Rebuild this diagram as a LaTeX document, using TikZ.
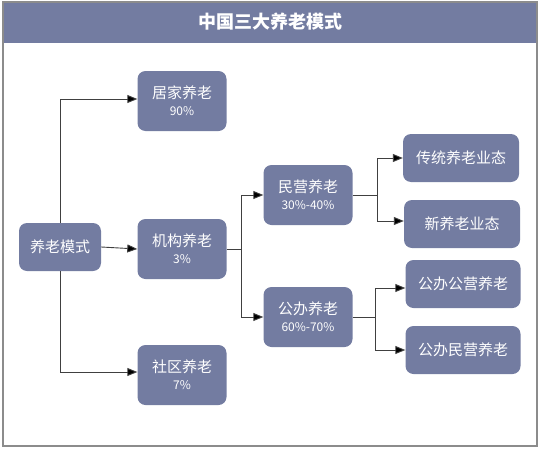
\documentclass[tikz,border=0pt]{standalone}
\usepackage{fontspec}
\newfontfamily\cjk{Noto Sans CJK SC}
\usetikzlibrary{arrows.meta,
                positioning}
\definecolor{boxblue}{HTML}{737CA1}
\newcommand\pctfont{\fontsize{12}{14}\selectfont}

\begin{document}
\begin{tikzpicture}[x=1pt,y=-1pt,
   mode/.style={fill=boxblue,text=white,rounded corners=8pt,align=center,
                minimum width=89pt,minimum height=60pt,inner sep=0pt,
                font=\cjk\fontsize{15}{18}\selectfont},
   leaf/.style={mode,minimum width=116pt,minimum height=48pt},
   link/.style={draw=black!75,line width=0.9pt,-{Triangle[length=10pt,width=8pt,fill=black]}}]
 \useasboundingbox (0,0) rectangle (541,450);
 % frame and title
 \fill[boxblue] (3,2) rectangle (537,43);
 \draw[black!45,line width=1.2pt] (3,2) rectangle (537,446);
 \node[text=white,font=\cjk\bfseries\fontsize{18}{20}\selectfont] (title) at (270,22) {中国三大养老模式};
 % nodes
 \node[mode,minimum width=82pt,minimum height=48pt] (ylms) at (60,247) {养老模式};
 \node[mode] (jj) at (182,101) {居家养老\\[-1pt]{\pctfont 90\%}};
 \node[mode] (jg) at (182,249) {机构养老\\[-1pt]{\pctfont 3\%}};
 \node[mode] (sq) at (182,375) {社区养老\\[-1pt]{\pctfont 7\%}};
 \node[mode] (my) at (308,195) {民营养老\\[-1pt]{\pctfont 30\%-40\%}};
 \node[mode] (gb) at (308,317) {公办养老\\[-1pt]{\pctfont 60\%-70\%}};
 \node[leaf] (ct) at (461,158) {传统养老业态};
 \node[leaf] (xy) at (462,224) {新养老业态};
 \node[leaf,minimum width=115pt] (gg) at (463,284) {公办公营养老};
 \node[leaf,minimum width=115pt] (gm) at (463,350) {公办民营养老};
 % forks
 \coordinate (f1) at ([xshift=15pt]jg.east);
 \coordinate (f2) at ([xshift=25pt]my.east);
 \coordinate (f3) at ([xshift=23pt]gb.east);
 % connectors
 \draw[link] (ylms.north) |- ([yshift=2pt]jj.west);
 \draw[link] (ylms.south) |- ([yshift=3pt]sq.west);
 \draw[link] (ylms.east) -- (jg.west);
 \draw[link] (jg.east) -- (f1) |- (my.west);
 \draw[link] (f1) |- (gb.west);
 \draw[link] (my.east) -- (f2) |- (ct.west);
 \draw[link] (f2) |- ([yshift=3pt]xy.west);
 \draw[link] (gb.east) -- (f3) |- ([yshift=-4pt]gg.west);
 \draw[link] (f3) |- (gm.west);
\end{tikzpicture}
\end{document}
